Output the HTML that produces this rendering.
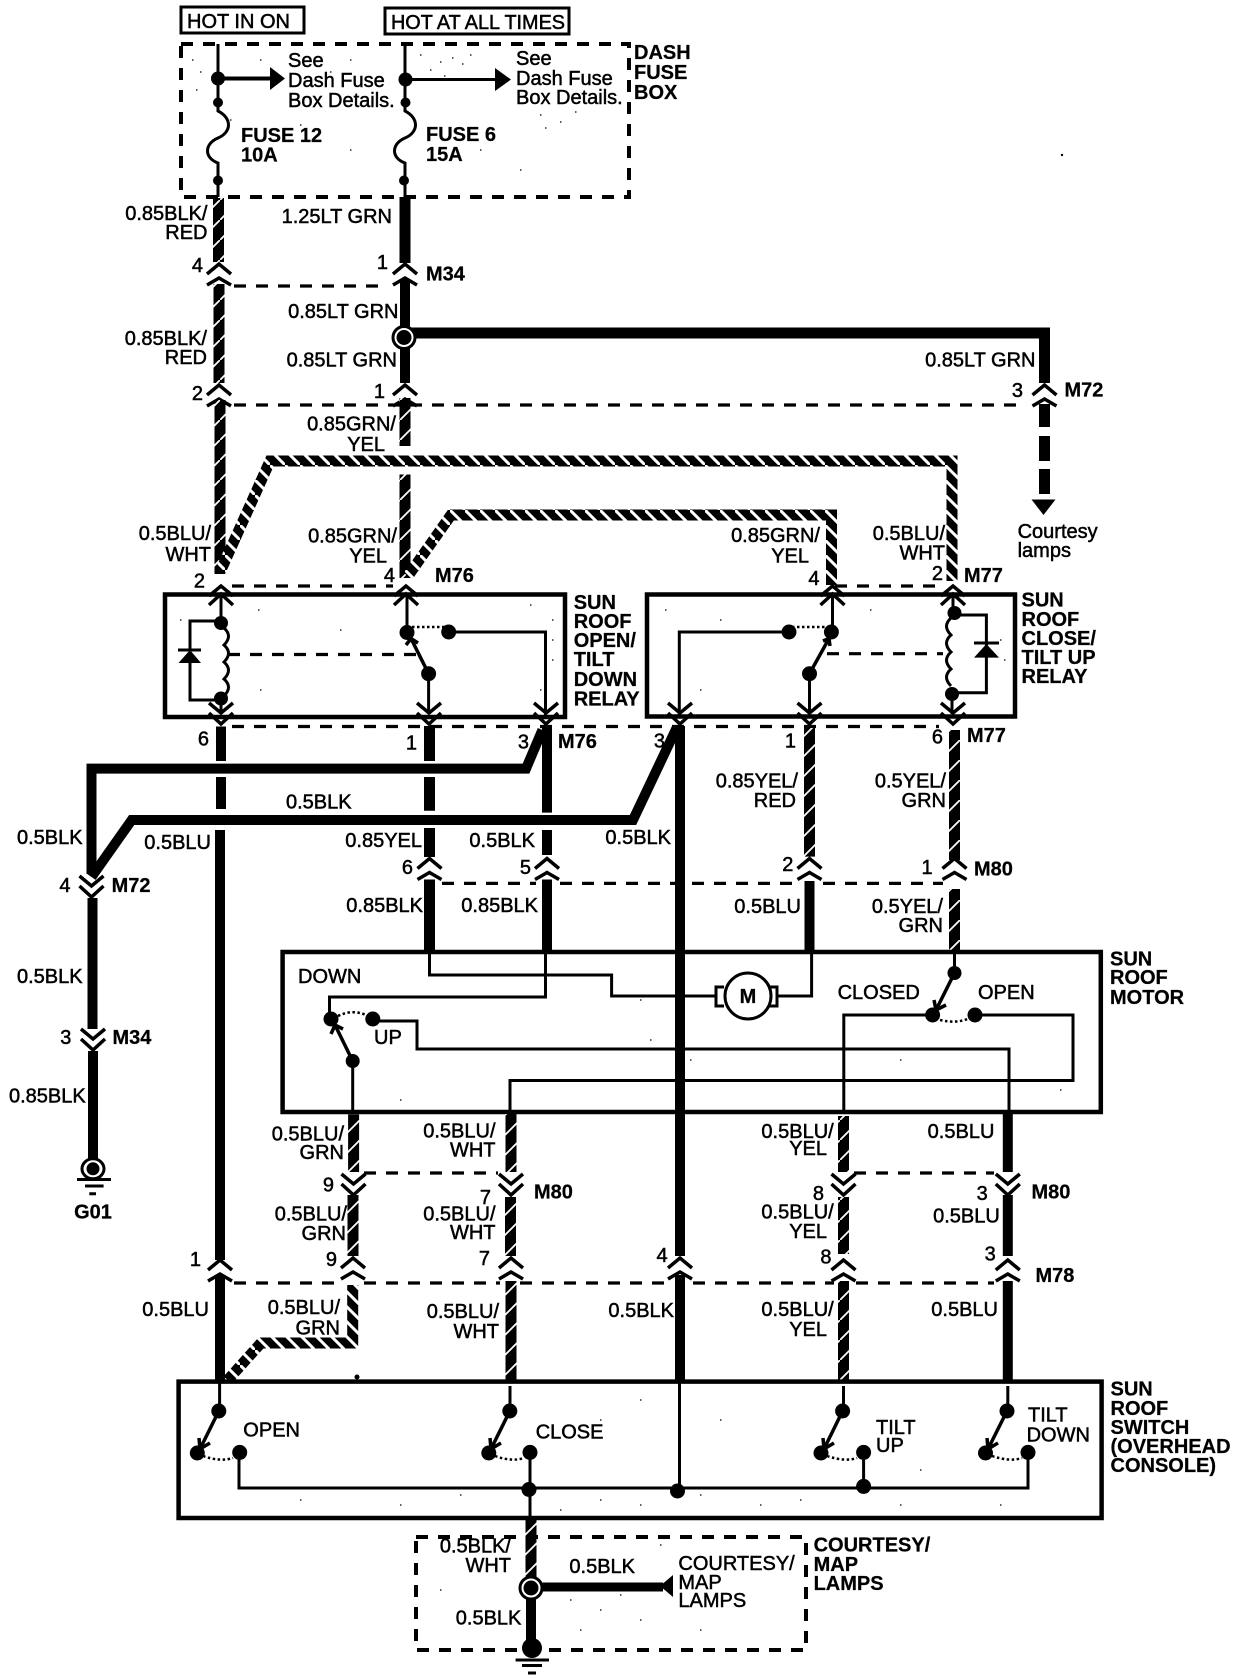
<!DOCTYPE html>
<html><head><meta charset="utf-8"><style>
html,body{margin:0;padding:0;background:#fff}
svg{display:block}
text{font-family:"Liberation Sans",sans-serif;font-size:20px;fill:#000;stroke:#000;stroke-width:.5}
.b{font-weight:bold;stroke-width:.25}
.e{text-anchor:end}
.m{text-anchor:middle}
.n{fill:none;stroke:#000;stroke-linejoin:miter}
.w{stroke-width:10}
.s{stroke-width:11;stroke:url(#ph)}
.h{stroke-width:11;stroke:url(#pt)}
.t{stroke-width:3}
.d{stroke-width:3.2;stroke-dasharray:12 10}
.x{stroke-width:4;stroke-dasharray:12 10}
.o{stroke-width:2.5;stroke-dasharray:2.5 2.5}
.r{stroke-width:4.5}
</style></head><body>
<svg xmlns="http://www.w3.org/2000/svg" width="1248" height="1680" viewBox="0 0 1248 1680">
<defs>
<pattern id="ph" patternUnits="userSpaceOnUse" width="20" height="20"><rect width="20" height="20" fill="#000"/><path d="M-2 22L22 -2" stroke="#fff" stroke-width="1.8"/></pattern>
<pattern id="pt" patternUnits="userSpaceOnUse" width="15" height="15"><rect width="15" height="15" fill="#000"/><path d="M-2 -2L17 17" stroke="#fff" stroke-width="3"/></pattern>
<path id="cu" class="n" stroke-width="3.5" d="M-12 10L0 0L12 10M-12 21L0 14L12 21"/>
<path id="cr" class="n" stroke-width="3.5" d="M-12 10L0 0L12 10M-12 19L0 8L12 19"/>
<path id="cd" class="n" stroke-width="3.5" d="M-12 0L0 10L12 0M-12 10L0 21L12 10"/>
</defs>
<rect width="1248" height="1680" fill="#fff"/>

<!-- speckle -->
<path fill="none" stroke="#000" stroke-width="1.2" d="M192 60h1.500M200 72h1.500M196 90h1.500M260 60h1.500M330 72h1.500M350 60h1.500M420 55h1.500M440 62h1.500M452 58h1.500M462 64h1.500M470 55h1.500M430 70h1.500M444 76h1.500M540 115h1.500M560 122h1.500M575 112h1.500M545 128h1.500M350 150h1.500M480 150h1.500M520 170h1.500M230 120h1.500M300 125h1.500M180 620h1.500M258 610h1.500M340 630h1.500M530 605h1.500M552 620h1.500M552 640h1.500M552 660h1.500M540 690h1.500M260 690h1.500M665 610h1.500M720 620h1.500M870 610h1.500M1000 640h1.500M1004 660h1.500M700 690h1.500M400 1100h1.500M600 975h1.500M640 1000h1.500M650 1040h1.500M690 1060h1.500M900 1060h1.500M1060 1090h1.500M300 1500h1.500M400 1505h1.500M460 1495h1.500M560 1510h1.500M600 1500h1.500M640 1505h1.500M700 1495h1.500M760 1505h1.500M800 1500h1.500M900 1505h1.500M1000 1505h1.500M600 1420h1.500M640 1400h1.500M720 1420h1.500M920 1470h1.500M570 1600h1.500M600 1610h1.500M620 1595h1.500M640 1620h1.500M580 1630h1.500M660 1545h1.500M700 1630h1.500M740 1600h1.500M440 1590h1.500"/>

<!-- top tags -->
<rect x="181" y="7" width="123" height="26" class="n" stroke-width="3"/>
<text x="187" y="28">HOT IN ON</text>
<rect x="385" y="8" width="184" height="26" class="n" stroke-width="3"/>
<text x="391" y="29" textLength="174" lengthAdjust="spacingAndGlyphs">HOT AT ALL TIMES</text>

<!-- dash fuse box -->
<rect x="181" y="44" width="448" height="153" class="n x"/>
<path class="n t" d="M218 44V111C232 118 232 132 218 138C204 144 204 158 218 163V197"/>
<circle cx="218" cy="78.5" r="7"/><circle cx="218" cy="102.5" r="5"/><circle cx="218" cy="180.5" r="5"/>
<path class="n" stroke-width="4" d="M218 78.5H272"/><path d="M270 67L285 78.5L270 90Z"/>
<path class="n t" d="M405 44V111C419 118 419 132 405 138C391 144 391 158 405 163V197"/>
<circle cx="405.5" cy="79.5" r="7"/><circle cx="405.5" cy="102.5" r="5"/><circle cx="404" cy="180.5" r="5"/>
<path class="n t" d="M405 79.5H498"/><path d="M495 68L511 79.5L495 91Z"/>
<text x="288" y="67">See</text><text x="288" y="87">Dash Fuse</text><text x="288" y="107">Box Details.</text>
<text x="516" y="65">See</text><text x="516" y="85">Dash Fuse</text><text x="516" y="104">Box Details.</text>
<text class="b" x="241" y="142">FUSE 12</text><text class="b" x="241" y="161.5">10A</text>
<text class="b" x="426" y="141">FUSE 6</text><text class="b" x="426" y="161">15A</text>
<text class="b" x="634" y="59">DASH</text><text class="b" x="634" y="79">FUSE</text><text class="b" x="634" y="99">BOX</text>
<circle cx="1062" cy="155" r="1.2"/>

<!-- left wire upper -->
<path class="n s" d="M218.5 198V262"/>
<use href="#cu" x="219" y="264"/>
<path class="n s" d="M219 284V383"/>
<use href="#cu" x="219" y="385"/>
<path class="n s" d="M220 400V574"/>
<text class="e" x="207.5" y="220">0.85BLK/</text><text class="e" x="207.5" y="239">RED</text>
<text class="e" x="203" y="272">4</text>
<text class="e" x="207" y="345">0.85BLK/</text><text class="e" x="207" y="364">RED</text>
<text class="e" x="203" y="400">2</text>
<text class="e" x="211" y="540">0.5BLU/</text><text class="e" x="211" y="561">WHT</text>
<text class="e" x="205" y="587.5">2</text>

<!-- center wire upper -->
<path class="n" stroke-width="11" d="M405 197V263"/>
<use href="#cu" x="405" y="264"/>
<path class="n w" d="M405 280V383"/>
<use href="#cu" x="405" y="385"/>
<text class="e" x="392" y="223">1.25LT GRN</text>
<text class="e" x="388" y="269">1</text>
<text class="b" x="426" y="280.5">M34</text>
<text class="e" x="398.5" y="318">0.85LT GRN</text>
<text class="e" x="397" y="366.6">0.85LT GRN</text>
<text class="e" x="385" y="398">1</text>
<path class="n" stroke-width="11" d="M404 333H1044.5V383"/>
<circle cx="404" cy="337.5" r="11" fill="#fff" stroke="#000" stroke-width="3"/><circle cx="404" cy="337.5" r="7.5"/>
<use href="#cu" x="1044.5" y="385"/>
<path class="n" stroke-width="11" d="M1044.5 404V427M1044.5 436V461M1044.5 469V494"/>
<path d="M1031.5 499.5H1055.5L1043.5 515Z"/>
<text class="e" x="1035.5" y="366.6">0.85LT GRN</text>
<text class="e" x="1023" y="397">3</text>
<text class="b" x="1064.5" y="396.5">M72</text>
<text x="1017.6" y="538">Courtesy</text><text x="1017.6" y="557">lamps</text>

<path class="n d" d="M234 286H380"/>
<path class="n d" d="M234 405H1021"/>

<!-- grn/yel -->
<path class="n s" d="M405 398V446"/>
<path class="n s" d="M405 474.5V578"/>
<text class="e" x="396" y="430.5">0.85GRN/</text><text class="e" x="385" y="451">YEL</text>
<text class="e" x="397" y="542.6">0.85GRN/</text><text class="e" x="387" y="562.5">YEL</text>
<text class="e" x="395" y="582">4</text>
<text class="b" x="435" y="582">M76</text>

<!-- thick hatched harness -->
<path class="n h" d="M221 570L270 461H952V581"/>
<path class="n h" d="M408 576L451 515H831.5V585"/>
<text class="e" x="820" y="542">0.85GRN/</text><text class="e" x="809" y="562.5">YEL</text>
<text class="e" x="945" y="540">0.5BLU/</text><text class="e" x="945" y="559.5">WHT</text>
<text class="e" x="819.5" y="585">4</text><text class="e" x="943" y="580">2</text>
<text class="b" x="964" y="582">M77</text>

<!-- relay boxes -->
<rect x="165" y="594.5" width="400" height="122.5" class="n r"/>
<rect x="647" y="594.5" width="368" height="122" class="n r"/>
<path class="n d" d="M232 586H393"/>
<path class="n d" d="M835 586H937"/>
<path class="n d" d="M232 726.5H939"/>
<use href="#cr" x="221" y="586"/><use href="#cr" x="406" y="586"/>
<use href="#cr" x="832.5" y="586"/><use href="#cr" x="953" y="586"/>
<use href="#cd" x="221" y="703"/><use href="#cd" x="429" y="703"/><use href="#cd" x="546" y="703"/>
<use href="#cd" x="680" y="703"/><use href="#cd" x="809.5" y="703"/><use href="#cd" x="953" y="703"/>

<!-- relay 1 internals -->
<path class="n t" d="M221 594V623"/>
<circle cx="221" cy="623" r="7"/><circle cx="221" cy="698.5" r="7"/>
<path class="n t" d="M224 628q9 8 0 17q9 8 0 17q9 8 0 17q9 8 0 17"/>
<path class="n t" d="M221 621H190V700H221V712"/>
<path d="M178.500 663H201L190 650Z"/><path class="n t" d="M178 650H201"/>
<path class="n d" stroke-dasharray="11 9" d="M228 654.500H417"/>
<path class="n t" d="M407 594V633"/>
<circle cx="407" cy="632.500" r="7.500"/><circle cx="448.700" cy="632" r="7.500"/>
<path class="n o" d="M407 627H446"/>
<path class="n t" d="M448.700 632H545.500V715"/>
<circle cx="428.600" cy="673.700" r="7.500"/>
<path class="n" stroke-width="3.500" d="M428.600 673.700L411 638.500M406 645L411 638.500L418 643"/>
<path class="n t" d="M428.600 673.700V714"/>

<!-- relay 2 internals -->
<path class="n t" d="M832.500 594V632"/>
<circle cx="831.400" cy="632" r="7.500"/><circle cx="789" cy="632" r="7.500"/>
<path class="n o" d="M792 627H830"/>
<path class="n t" d="M789 632H679.300V716"/>
<circle cx="809.500" cy="673.700" r="7.500"/>
<path class="n" stroke-width="3.500" d="M809.500 673.700L829 638.500M823 641L829 638.500L830 646"/>
<path class="n t" d="M809.500 673.700V714"/>
<path class="n d" stroke-dasharray="11 9" d="M827 653.700H943"/>
<path class="n t" d="M953 594V613"/>
<circle cx="954.500" cy="613" r="7"/><circle cx="952" cy="694" r="7"/>
<path class="n t" d="M951 618q-9 8 0 17q-9 8 0 17q-9 8 0 17q-9 8 0 17"/>
<path class="n t" d="M954.500 615H986.400V692.800H952V714"/>
<path d="M974 657.600H999L986.400 644Z"/><path class="n t" d="M974 643H999"/>

<text class="b" x="573.700" y="609">SUN</text><text class="b" x="573.700" y="628">ROOF</text><text class="b" x="573.700" y="647">OPEN/</text><text class="b" x="573.700" y="666">TILT</text><text class="b" x="573.700" y="686">DOWN</text><text class="b" x="573.700" y="705.400">RELAY</text>
<text class="b" x="1021.500" y="606.700">SUN</text><text class="b" x="1021.500" y="625.800">ROOF</text><text class="b" x="1021.500" y="645">CLOSE/</text><text class="b" x="1021.500" y="664">TILT UP</text><text class="b" x="1021.500" y="683">RELAY</text>

<!-- below relays -->
<path class="n w" d="M221 726.500V761M221 777V809M220 830V1260M220 1275V1382"/>
<path class="n" stroke-width="11" d="M429.500 726V761M429.500 777V810.700M429.500 828V857M429.500 879.500V952"/>
<path class="n w" d="M547 726V812.600M547 830V855M547 879.500V952"/>
<path class="n w" d="M542.400 730L526 768.600H91.500V874"/>
<path class="n w" d="M676.400 728.400L633 820H131.700L91.500 877"/>
<path class="n w" d="M680 726V1256M680 1275V1382"/>
<path class="n s" d="M809.500 728V856.600"/>
<path class="n w" d="M809.500 881V952"/>
<path class="n s" d="M954.500 730V860"/>
<path class="n s" d="M954.500 889V952"/>
<use href="#cu" x="429.500" y="858.500"/><use href="#cu" x="547" y="858.500"/><use href="#cu" x="809.500" y="858.500"/><use href="#cu" x="954.500" y="858.500"/>
<path class="n d" d="M442 883.400H536M560 883.400H798M823 883.400H943"/>
<text class="e" x="209" y="745.600">6</text><text class="e" x="417" y="749.500">1</text><text class="e" x="529" y="748.300">3</text>
<text class="b" x="558" y="748">M76</text><text class="e" x="665" y="747.600">3</text>
<text class="e" x="796" y="747.600">1</text><text class="e" x="943" y="743.700">6</text><text class="b" x="967" y="742">M77</text>
<text x="286" y="808.700">0.5BLK</text>
<text class="e" x="82.600" y="844">0.5BLK</text><text class="e" x="211" y="849">0.5BLU</text>
<text class="e" x="422" y="847">0.85YEL</text><text class="e" x="535" y="847">0.5BLK</text><text class="e" x="671" y="844">0.5BLK</text>
<text class="e" x="413" y="874">6</text><text class="e" x="531" y="874">5</text>
<text class="e" x="423" y="912">0.85BLK</text><text class="e" x="538" y="912">0.85BLK</text>
<text class="e" x="798" y="787.700">0.85YEL/</text><text class="e" x="796" y="807">RED</text>
<text class="e" x="946" y="787.700">0.5YEL/</text><text class="e" x="946" y="807">GRN</text>
<text class="e" x="793.400" y="871">2</text><text class="e" x="932.600" y="874">1</text><text class="b" x="974" y="875.700">M80</text>
<text class="e" x="801" y="913">0.5BLU</text><text class="e" x="943" y="913">0.5YEL/</text><text class="e" x="943" y="932">GRN</text>

<!-- left ground branch -->
<use href="#cd" x="91.500" y="876"/>
<path class="n w" d="M92.500 898V1029"/>
<use href="#cd" x="93" y="1029"/>
<path class="n w" d="M93 1051V1160"/>
<text class="e" x="70.500" y="892">4</text><text class="b" x="111.600" y="892">M72</text>
<text class="e" x="82.600" y="983">0.5BLK</text>
<text class="e" x="71.400" y="1044">3</text><text class="b" x="112.500" y="1044">M34</text>
<text class="e" x="85.700" y="1102.700">0.85BLK</text>
<ellipse cx="93" cy="1168.800" rx="11" ry="10" fill="#fff" stroke="#000" stroke-width="3"/><circle cx="93" cy="1168.800" r="6.500"/>
<path class="n t" d="M77 1179.500H111M85 1186H103.600M89.300 1193.700H96"/>
<text class="b m" x="93" y="1218.500">G01</text>

<!-- sun roof motor -->
<rect x="282.600" y="952" width="818.200" height="160" class="n r"/>
<path class="n t" d="M429.500 952V975H611.600V996H716"/>
<path class="n t" d="M724 987H716V1006H724M769 987H777V1006H769"/>
<ellipse cx="748" cy="996" rx="23" ry="23" fill="#fff" stroke="#000" stroke-width="3"/>
<text class="b m" x="748" y="1003">M</text>
<path class="n t" d="M777 996H811.600V952"/>
<path class="n t" d="M545.500 952V997H329.500V1015"/>
<circle cx="331" cy="1019" r="7.500"/><circle cx="372.800" cy="1019" r="7.500"/>
<path class="n o" d="M338 1016Q352 1009 366 1015"/>
<path class="n t" d="M372.800 1021H417V1049H1009V1112"/>
<circle cx="352.700" cy="1061" r="7"/>
<path class="n" stroke-width="3.500" d="M352.700 1061L335 1025M331 1034L335 1025L343 1029"/>
<path class="n t" d="M352.700 1061V1112"/>
<path class="n t" d="M510 1112V1080.500H1073V1015H975"/>
<circle cx="975" cy="1015" r="7.500"/><circle cx="932.600" cy="1015" r="7.500"/>
<path class="n o" d="M940 1020Q957 1024 970 1018"/>
<path class="n t" d="M932.600 1015H843.800V1112"/>
<path class="n t" d="M954.500 952V973"/>
<circle cx="954.500" cy="973" r="7"/>
<path class="n" stroke-width="3.500" d="M954.500 973L936 1010M934 1000L936 1010L946 1005"/>
<text x="298" y="983">DOWN</text><text x="374" y="1044">UP</text>
<text x="837.600" y="999">CLOSED</text><text x="978" y="999">OPEN</text>
<text class="b" x="1110" y="965.600">SUN</text><text class="b" x="1110" y="984">ROOF</text><text class="b" x="1110" y="1004">MOTOR</text>

<!-- under motor -->
<path class="n s" d="M353.600 1114.400V1172"/>
<use href="#cd" x="353.500" y="1174"/>
<path class="n s" d="M353 1195V1256"/>
<use href="#cu" x="353" y="1258"/>
<path class="n h" d="M352.700 1285V1343H261L227.700 1380"/>
<path class="n s" d="M511 1114V1172"/>
<use href="#cd" x="511" y="1174"/>
<path class="n s" d="M510.500 1197V1256"/>
<use href="#cu" x="511" y="1258"/>
<path class="n s" d="M511 1281V1382"/>
<path class="n s" d="M843.500 1116V1172"/>
<use href="#cd" x="843.500" y="1174"/>
<path class="n s" d="M843.500 1197V1254"/>
<use href="#cu" x="843.500" y="1260"/>
<path class="n s" d="M843.500 1281V1382"/>
<path class="n w" d="M1007.800 1114V1172M1007.800 1195V1256M1007.800 1281V1382"/>
<use href="#cd" x="1007.800" y="1174"/><use href="#cu" x="1007.800" y="1260"/>
<use href="#cu" x="220" y="1260"/><use href="#cu" x="680" y="1258"/>
<path class="n d" d="M364 1173H498M854 1173H994"/>
<path class="n d" d="M234 1283H344M364 1283H500M520 1283H668M693 1283H834M856 1283H994"/>
<text class="e" x="344" y="1140.500">0.5BLU/</text><text class="e" x="344" y="1159">GRN</text>
<text class="e" x="495.500" y="1137.400">0.5BLU/</text><text class="e" x="495.500" y="1156.500">WHT</text>
<text class="e" x="334" y="1191.700">9</text><text class="e" x="491" y="1204">7</text><text class="b" x="534" y="1198.600">M80</text>
<text class="e" x="347" y="1220.500">0.5BLU/</text><text class="e" x="346" y="1240">GRN</text>
<text class="e" x="495.500" y="1220.500">0.5BLU/</text><text class="e" x="495.500" y="1239">WHT</text>
<text class="e" x="337" y="1266">9</text><text class="e" x="490" y="1265">7</text><text class="e" x="201" y="1266">1</text>
<text class="e" x="209" y="1316">0.5BLU</text>
<text class="e" x="340" y="1314">0.5BLU/</text><text class="e" x="340" y="1334.500">GRN</text>
<text class="e" x="499" y="1318">0.5BLU/</text><text class="e" x="499" y="1338">WHT</text>
<text class="e" x="667.600" y="1262">4</text><text class="e" x="674" y="1317">0.5BLK</text>
<text class="e" x="833.700" y="1138">0.5BLU/</text><text class="e" x="827" y="1155">YEL</text>
<text class="e" x="824" y="1200">8</text>
<text class="e" x="833.700" y="1218.500">0.5BLU/</text><text class="e" x="827" y="1238">YEL</text>
<text class="e" x="831.500" y="1263.700">8</text>
<text class="e" x="833.700" y="1316">0.5BLU/</text><text class="e" x="827" y="1336">YEL</text>
<text class="e" x="994.400" y="1138">0.5BLU</text><text class="e" x="987.700" y="1200">3</text><text class="b" x="1031.500" y="1198.600">M80</text>
<text class="e" x="999.800" y="1222.700">0.5BLU</text><text class="e" x="995.800" y="1260.600">3</text><text class="b" x="1035.500" y="1282">M78</text>
<text class="e" x="998" y="1316">0.5BLU</text>
<circle cx="357" cy="1377" r="2.500"/>

<!-- switch box -->
<rect x="178.600" y="1381.600" width="923" height="136.400" class="n r"/>
<path class="n t" d="M219.600 1381V1411M510 1386V1411M843.500 1386V1411M1007.800 1386V1411M679.500 1381V1491"/>
<path class="n t" d="M239 1452V1488H1028V1452"/>
<path class="n t" d="M530 1452V1522M863.600 1452V1486"/>
<circle cx="218.800" cy="1411" r="7.500"/><circle cx="197.300" cy="1453" r="7.500"/><circle cx="239.700" cy="1452.400" r="7.500"/>
<circle cx="509.800" cy="1411" r="7.500"/><circle cx="488.800" cy="1453" r="7.500"/><circle cx="530" cy="1452.400" r="7.500"/><circle cx="529" cy="1489.500" r="7.500"/>
<circle cx="677.500" cy="1491" r="7.500"/>
<circle cx="842.600" cy="1411" r="7.500"/><circle cx="821" cy="1453" r="7.500"/><circle cx="863.600" cy="1452.400" r="7.500"/><circle cx="863.600" cy="1486.400" r="7.500"/>
<circle cx="1007" cy="1411" r="7.500"/><circle cx="985.500" cy="1453" r="7.500"/><circle cx="1028" cy="1452.400" r="7.500"/>
<path class="n" stroke-width="3.500" d="M218.800 1411L200 1449M199 1438L200 1449L210 1443M509.800 1411L491 1449M490 1438L491 1449L501 1443M842.600 1411L824 1449M823 1438L824 1449L834 1443M1007 1411L988 1449M987 1438L988 1449L998 1443"/>
<path class="n o" d="M203 1456Q220 1462 233 1458M495 1456Q512 1462 524 1458M827 1456Q845 1462 857 1458M992 1456Q1010 1462 1022 1458"/>
<text x="243.300" y="1436.700">OPEN</text><text x="535.700" y="1438.600">CLOSE</text>
<text x="876" y="1434">TILT</text><text x="876" y="1452">UP</text>
<text x="1028" y="1421.700">TILT</text><text x="1026.600" y="1441.600">DOWN</text>
<text class="b" x="1110.500" y="1395.700">SUN</text><text class="b" x="1110.500" y="1415">ROOF</text><text class="b" x="1110.500" y="1434">SWITCH</text><text class="b" x="1110.500" y="1453">(OVERHEAD</text><text class="b" x="1110.500" y="1472">CONSOLE)</text>

<!-- courtesy box -->
<rect x="416" y="1537" width="390" height="113" class="n x"/>
<path class="n s" d="M531 1520V1577"/>
<path class="n w" d="M531 1588V1646"/>
<path class="n" stroke-width="9" d="M531 1587H663"/>
<path d="M673 1575V1597L660 1586Z"/>
<circle cx="531" cy="1588" r="11" fill="#fff" stroke="#000" stroke-width="3"/><circle cx="531" cy="1588" r="7.500"/>
<circle cx="532" cy="1648" r="10"/>
<path class="n t" d="M515.600 1660H549M522 1665.500H542M528 1673H536"/>
<text class="e" x="511" y="1552.600">0.5BLK/</text><text class="e" x="511" y="1571.800">WHT</text>
<text x="569.400" y="1573">0.5BLK</text>
<text class="e" x="521.400" y="1624.600">0.5BLK</text>
<text x="678.400" y="1570">COURTESY/</text><text x="678.400" y="1589">MAP</text><text x="678.400" y="1607">LAMPS</text>
<text class="b" x="813.600" y="1551.500">COURTESY/</text><text class="b" x="813.600" y="1571">MAP</text><text class="b" x="813.600" y="1590">LAMPS</text>
</svg>
</body></html>
